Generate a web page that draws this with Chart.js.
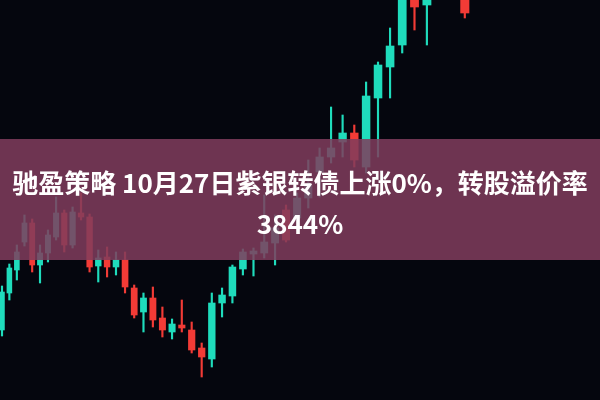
<!DOCTYPE html>
<html>
<head>
<meta charset="utf-8">
<script src="https://cdn.jsdelivr.net/npm/chart.js@4.4.1/dist/chart.umd.min.js"></script>
<style>
  html, body { margin: 0; padding: 0; background: #05060e; }
  #wrap { position: relative; width: 600px; height: 400px; overflow: hidden; background: #05060e; }
  #band {
    position: absolute; left: 0; top: 139px; width: 600px; height: 121px;
    background: rgba(128, 60, 92, 0.86);
    display: flex; align-items: center; justify-content: center;
    color: #fff; text-align: center;
    font-family: "Noto Sans CJK SC", "Noto Sans", sans-serif;
    font-weight: 700; font-size: 26px; line-height: 41px;
    padding-top: 4px; box-sizing: border-box;
  }
</style>
</head>
<body>
<div id="wrap">
  <canvas id="kChart"></canvas>
  <div id="band"><div>驰盈策略 10月27日紫银转债上涨0%，转股溢价率<br>3844%</div></div>
</div>
<script>
// daily candles, price units (44 and 45 run off the top)
const days = [];
for (let i = 1; i <= 57; i++) days.push('D' + i);

const openP  = [70, 107, 130, 158, 177, 135, 147, 163, 187, 155, 187, 183, 134, 143, 133, 140, 112, 88, 102, 82,
                68, 75, 70, 52, 41, 97, 104, 131, 146, 147, 157, 190, 182, 202, 228, 243, 258, 267, 233, 302,
                333, 355, 412, 395, 420, 445, 430];
const highP  = [114, 136, 155, 185, 181, 155, 170, 203, 190, 193, 207, 186, 150, 153, 148, 148, 115, 107, 113, 93,
                81, 100, 78, 57, 107, 112, 135, 151, 152, 205, 185, 195, 207, 240, 252, 293, 285, 275, 318, 338,
                372, 425, 430, 435, 460, 480, 440];
const lowP   = [64, 100, 120, 154, 128, 117, 138, 160, 148, 152, 180, 128, 118, 123, 125, 107, 82, 68, 73, 63,
                61, 68, 47, 23, 33, 83, 97, 125, 124, 142, 135, 158, 173, 192, 203, 237, 243, 233, 227, 243,
                302, 347, 370, 355, 410, 435, 382];
const closeP = [108, 132, 148, 177, 135, 147, 165, 187, 155, 188, 183, 133, 142, 133, 140, 113, 85, 102, 80, 70,
                76, 72, 50, 43, 97, 105, 133, 148, 149, 158, 172, 160, 202, 215, 243, 252, 267, 240, 304, 335,
                354, 415, 393, 420, 450, 470, 387];

const UP = '#1fdcbc';
const DOWN = '#f23b36';
const SLANT = 0.315; // photo is taken at an angle, candles spread out to the right

class SlantScale extends Chart.CategoryScale {
  static id = 'slant';
  getPixelForDecimal(d) {
    return super.getPixelForDecimal(d * (1 - SLANT) + SLANT * d * d);
  }
}
Chart.register(SlantScale);

const colors = openP.map((o, i) => closeP[i] >= o ? UP : DOWN);

new Chart(document.getElementById('kChart'), {
  type: 'bar',
  data: {
    labels: days,
    datasets: [{
      label: 'body',
      data: openP.map((o, i) => [o, closeP[i]]),
      backgroundColor: colors,
      borderWidth: 0,
      barThickness: 'flex',
      categoryPercentage: 0.66,
      barPercentage: 1,
      minBarLength: 2,
      clip: false,
      order: 1
    },
    {
      label: 'wick',
      data: lowP.map((l, i) => [l, highP[i]]),
      backgroundColor: colors,
      borderWidth: 0,
      barThickness: 1.5,
      grouped: false,
      clip: false,
      order: 2
    }]
  },
  options: {
    responsive: true,
    maintainAspectRatio: false,
    animation: false,
    layout: { padding: { left: 2, right: 1, top: 0, bottom: 0 } },
    plugins: { legend: { display: false }, tooltip: { enabled: false } },
    scales: {
      x: { type: 'slant', offset: false, display: false, grid: { display: false } },
      y: { min: 0, max: 400, display: false, grid: { display: false } }
    }
  }
});
</script>
<style>#kChart { position: absolute; left: 0; top: 0; width: 600px !important; height: 400px !important; }</style>
</body>
</html>
